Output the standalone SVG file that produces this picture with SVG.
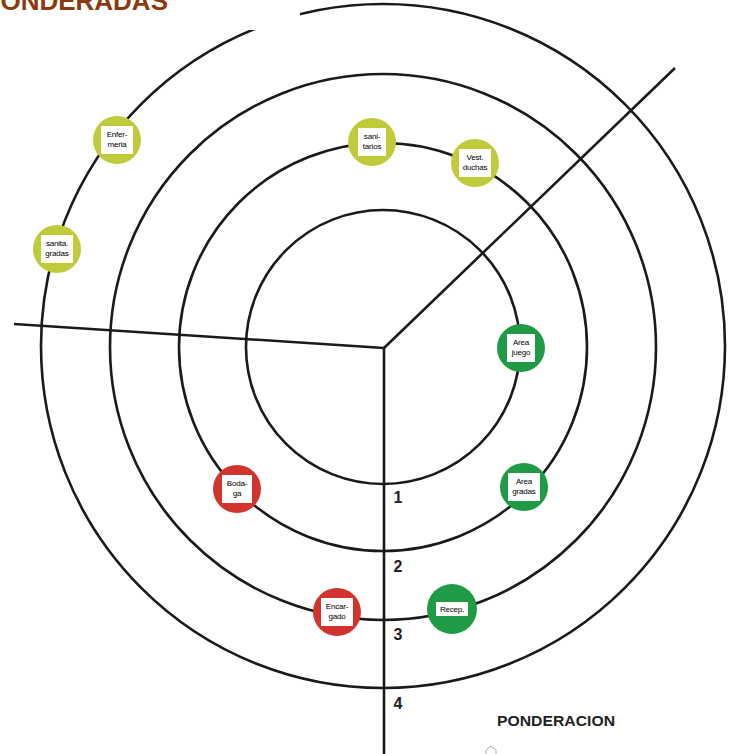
<svg xmlns="http://www.w3.org/2000/svg" width="732" height="754" viewBox="0 0 732 754">
<style>
.ring{fill:none;stroke:#1a1a1a;stroke-width:2.6}
.ax{fill:none;stroke:#1a1a1a;stroke-width:2.6}
.y{fill:#bfcb3a}
.g{fill:#1f9a45}
.r{fill:#d0342c}
.box{fill:#fff}
.lbl{font-family:"Liberation Sans",Arial,sans-serif;font-size:8px;fill:#000;text-anchor:middle;letter-spacing:-0.2px}
.num{font-family:"Liberation Sans",Arial,sans-serif;font-size:16px;font-weight:bold;fill:#222;text-anchor:middle}
</style>
<rect width="732" height="754" fill="#fff"/>
<g id="rings">
<circle class="ring" cx="383" cy="347" r="137"/>
<circle class="ring" cx="383" cy="347" r="204"/>
<circle class="ring" cx="383" cy="347" r="273"/>
<circle class="ring" cx="383" cy="346" r="342"/>
</g>
<g id="connectors">
<line class="ax" x1="14" y1="324" x2="384" y2="348"/>
<line class="ax" x1="384" y1="348" x2="675" y2="68"/>
<line class="ax" x1="384" y1="347" x2="384" y2="754"/>
</g>
<rect x="0" y="0" width="300" height="30" fill="#fff"/>
<text x="168" y="9.5" text-anchor="end" font-family="Liberation Sans,Arial,sans-serif" font-weight="bold" font-size="26" fill="#8b3a0e">PONDERADAS</text>
<g id="n-enfermeria">
<circle class="y" cx="117" cy="140" r="24"/>
<rect class="box" x="101" y="126" width="32" height="28"/>
<text class="lbl" x="117" y="137">Enfer-</text><text class="lbl" x="117" y="147">meria</text>
</g>
<g id="n-sanita">
<circle class="y" cx="57" cy="249" r="24"/>
<rect class="box" x="41" y="235" width="32" height="28"/>
<text class="lbl" x="57" y="246">sanita.</text><text class="lbl" x="57" y="256">gradas</text>
</g>
<g id="n-sanitarios">
<circle class="y" cx="372" cy="142" r="24"/>
<rect class="box" x="358" y="128" width="28" height="28"/>
<text class="lbl" x="372" y="139">sani-</text><text class="lbl" x="372" y="149">tarios</text>
</g>
<g id="n-vest">
<circle class="y" cx="475" cy="163" r="24"/>
<rect class="box" x="459" y="149" width="32" height="28"/>
<text class="lbl" x="475" y="160">Vest.</text><text class="lbl" x="475" y="170">duchas</text>
</g>
<g id="n-areajuego">
<circle class="g" cx="521" cy="348" r="24"/>
<rect class="box" x="507" y="334" width="28" height="28"/>
<text class="lbl" x="521" y="345">Area</text><text class="lbl" x="521" y="355">juego</text>
</g>
<g id="n-areagradas">
<circle class="g" cx="524" cy="487" r="24"/>
<rect class="box" x="508" y="473" width="32" height="28"/>
<text class="lbl" x="524" y="484">Area</text><text class="lbl" x="524" y="494">gradas</text>
</g>
<g id="n-bodega">
<circle class="r" cx="237" cy="489" r="24"/>
<rect class="box" x="222" y="475" width="30" height="28"/>
<text class="lbl" x="237" y="486">Boda-</text><text class="lbl" x="237" y="496">ga</text>
</g>
<g id="n-encargado">
<circle class="r" cx="337" cy="612" r="24"/>
<rect class="box" x="321" y="598" width="32" height="28"/>
<text class="lbl" x="337" y="609">Encar-</text><text class="lbl" x="337" y="619">gado</text>
</g>
<g id="n-recep">
<circle class="g" cx="452" cy="609" r="25"/>
<rect class="box" x="436" y="602" width="32" height="14"/>
<text class="lbl" x="452" y="612">Recep.</text>
</g>
<g id="numbers">
<text class="num" x="398" y="503">1</text>
<text class="num" x="398" y="572">2</text>
<text class="num" x="398" y="640">3</text>
<text class="num" x="398" y="709">4</text>
</g>
<text x="497" y="726" font-family="Liberation Sans,Arial,sans-serif" font-weight="bold" font-size="15" fill="#222" textLength="118" lengthAdjust="spacingAndGlyphs">PONDERACION</text>
<path d="M486 754 L486 750 L491 746 L496 750 L496 754" fill="none" stroke="#aaa" stroke-width="1"/>
</svg>
